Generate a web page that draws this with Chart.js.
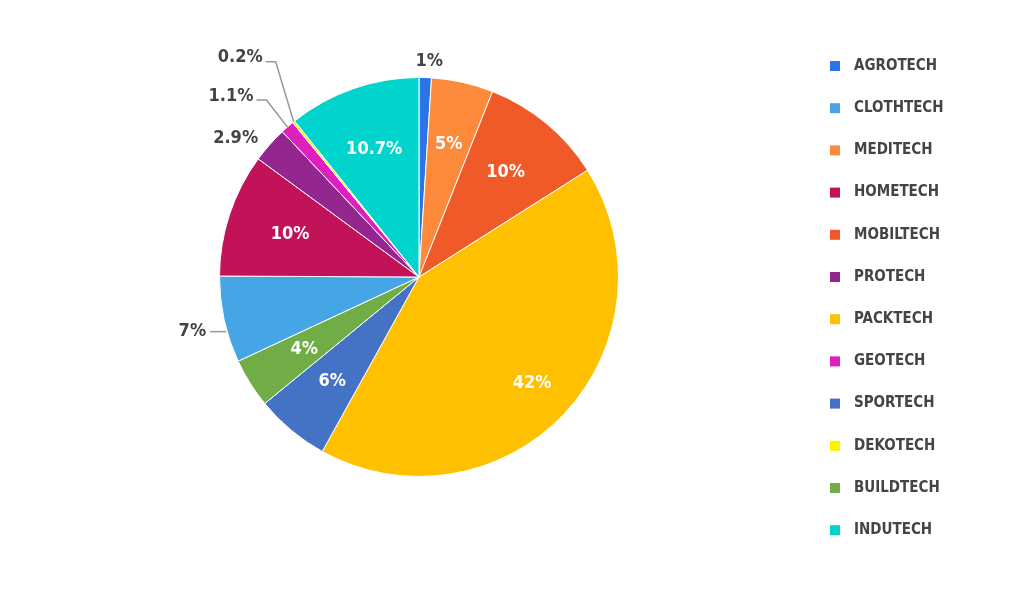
<!DOCTYPE html>
<html>
<head>
<meta charset="utf-8">
<script src="https://cdn.jsdelivr.net/npm/chart.js@4"></script>
<style>
  html, body { margin: 0; padding: 0; background: #fff; }
  #wrap { width: 1033px; height: 592px; position: relative; }
</style>
</head>
<body>
<div id="wrap"><canvas id="pie"></canvas></div>
<script>
/* ── Data (slice order, clockwise from 12 o'clock) ─────────────────────── */

const sectors = ['AGROTECH','MEDITECH','MOBILTECH','PACKTECH','SPORTECH','BUILDTECH',
                 'CLOTHTECH','HOMETECH','PROTECH','GEOTECH','DEKOTECH','INDUTECH'];
const shares  = [1, 5, 10, 42, 6, 4, 7, 10, 2.9, 1.1, 0.2, 10.7];
const labels  = ['1%','5%','10%','42%','6%','4%','7%','10%','2.9%','1.1%','0.2%','10.7%'];
const legendOrder = ['AGROTECH','CLOTHTECH','MEDITECH','HOMETECH','MOBILTECH','PROTECH',
                     'PACKTECH','GEOTECH','SPORTECH','DEKOTECH','BUILDTECH','INDUTECH'];

const colors = ['#2a74e8','#fd8a3a','#f05a28','#ffc000','#4472c4','#70ad47',
                '#45a5e5','#c2135a','#93278f','#e01fbf','#fff200','#00d4cc'];

// label placement: inside (radius fraction) or outside with optional elbow line
const labelStyle = {
  0:  { out: true, dx: 4,   dy: -16 },
  6:  { out: true, line: true, lx: -14, tx: -35, dy: 12 },
  8:  { out: true, dx: -34, dy: -6 },
  9:  { out: true, elbow: [-21, -27], tx: -50 },
  10: { out: true, elbow: [-18, -60], tx: -38 },
};

const FONT = '"DejaVu Sans", sans-serif';

function setFont(ctx, size) {
  ctx.font = `bold ${size}px ${FONT}`;
  if ('fontStretch' in ctx) ctx.fontStretch = 'condensed';
}

// ── Label plugin ───────────────────────────────────────────────────────────

const sliceLabels = {
  id: 'sliceLabels',
  afterDatasetsDraw(chart) {
    const ctx = chart.ctx;
    const arcs = chart.getDatasetMeta(0).data;
    ctx.save();
    setFont(ctx, 18);
    ctx.textBaseline = 'middle';
    arcs.forEach((a, i) => {
      const mid = (a.startAngle + a.endAngle) / 2;
      const st = labelStyle[i];
      const r = a.outerRadius;
      if (!st) {
        const f = shares[i] > 30 ? 0.78 : 0.68;
        ctx.fillStyle = '#fff';
        ctx.textAlign = 'center';
        ctx.fillText(labels[i], a.x + Math.cos(mid) * r * f, a.y + Math.sin(mid) * r * f);
        return;
      }
      const px = a.x + Math.cos(mid) * r, py = a.y + Math.sin(mid) * r;
      ctx.fillStyle = '#444';
      ctx.strokeStyle = '#999';
      ctx.lineWidth = 1.5;
      if (st.elbow) {
        const ex = px + st.elbow[0], ey = py + st.elbow[1];
        ctx.beginPath(); ctx.moveTo(px, py); ctx.lineTo(ex, ey); ctx.lineTo(ex - 10, ey); ctx.stroke();
        ctx.textAlign = 'right';
        ctx.fillText(labels[i], ex - 13, ey - 4);
      } else if (st.line) {
        ctx.beginPath(); ctx.moveTo(px + 2, py + st.dy); ctx.lineTo(px + st.lx, py + st.dy); ctx.stroke();
        ctx.textAlign = 'right';
        ctx.fillText(labels[i], px + st.lx - 4, py + st.dy);
      } else {
        ctx.textAlign = 'center';
        ctx.fillText(labels[i], px + st.dx, py + st.dy);
      }
    });
    ctx.restore();
  }
};

// ── Legend plugin (single column on the right) ─────────────────────────────

const sideLegend = {
  id: 'sideLegend',
  afterDraw(chart) {
    const ctx = chart.ctx;
    ctx.save();
    setFont(ctx, 15);
    ctx.textBaseline = 'middle';
    ctx.textAlign = 'left';
    legendOrder.forEach((name, k) => {
      const i = sectors.indexOf(name);
      const y = 66 + k * 42.2;
      ctx.fillStyle = colors[i];
      ctx.fillRect(830, y - 5, 10, 10);
      ctx.fillStyle = '#444';
      ctx.fillText(name, 854, y);
    });
    ctx.restore();
  }
};

// ── Chart ──────────────────────────────────────────────────────────────────

new Chart(document.getElementById('pie'), {
  type: 'pie',
  data: {
    labels: sectors,
    datasets: [{
      data: shares,
      backgroundColor: colors,
      borderColor: '#fff',
      borderWidth: 1,
    }]
  },
  options: {
    responsive: true,
    maintainAspectRatio: false,
    animation: false,
    layout: { padding: { top: 77, bottom: 115, left: 0, right: 195 } },
    plugins: {
      tooltip: { enabled: false },
      legend: { display: false }
    }
  },
  plugins: [sliceLabels, sideLegend]
});
</script>
</body>
</html>
